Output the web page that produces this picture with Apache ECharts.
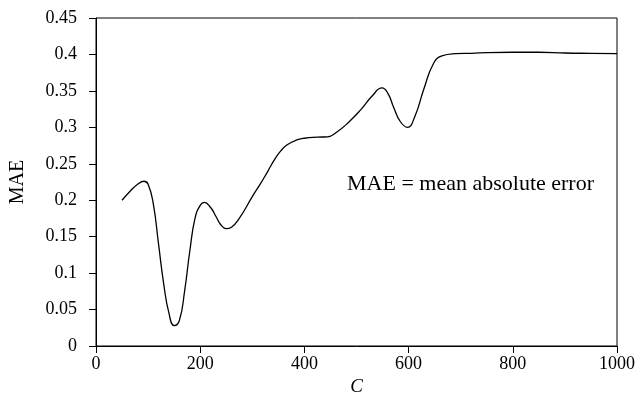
<!DOCTYPE html>
<html>
<head>
<meta charset="utf-8">
<script src="https://cdn.jsdelivr.net/npm/echarts@6/dist/echarts.min.js"></script>
<style>
    html, body { margin: 0; padding: 0; background: #fff; }
    #chart { width: 638px; height: 418px; }
</style>
</head>
<body>
<div id="chart"></div>
<script>
// C 取值
let cValues = [50, 65, 80, 92, 100, 110, 120, 130, 140, 150, 160, 170, 180, 190, 200, 208, 220, 230, 240, 250,
    260, 275, 300, 316, 330, 342, 355, 367, 383, 400, 425, 444, 463, 485, 508, 530, 549, 560, 571, 584,
    598, 612, 629, 648, 664, 690, 720, 800, 850, 900, 950, 1000];
// MAE
let maeValues = [0.200, 0.212, 0.222, 0.226, 0.222, 0.195, 0.140, 0.085, 0.045, 0.028, 0.035, 0.075, 0.130, 0.175, 0.193, 0.197, 0.190, 0.178, 0.166, 0.161,
    0.163, 0.175, 0.205, 0.223, 0.240, 0.255, 0.268, 0.276, 0.282, 0.285, 0.2865, 0.287, 0.294, 0.307, 0.324, 0.343, 0.354, 0.347, 0.328, 0.308,
    0.300, 0.315, 0.352, 0.388, 0.398, 0.401, 0.4016, 0.403, 0.403, 0.402, 0.4015, 0.401];

let xTicks = [0, 200, 400, 600, 800, 1000];
let yTicks = [0, 0.05, 0.1, 0.15, 0.2, 0.25, 0.3, 0.35, 0.4, 0.45];

let fontFamily = '"Liberation Serif", "DejaVu Serif", serif';

let seriesData = [];
for (let i = 0; i < cValues.length; i++) {
    seriesData.push([cValues[i], maeValues[i]]);
}

let myChart = echarts.init(document.getElementById('chart'));
let option = {
    animation: false,
    textStyle: { fontFamily: fontFamily },
    grid: {
        left: 95,
        right: 21,
        top: 18,
        bottom: 72,
        show: true,
        borderColor: '#000',
        borderWidth: 1
    },
    xAxis: {
        type: 'value',
        min: xTicks[0],
        max: xTicks[xTicks.length - 1],
        interval: 200,
        name: 'C',
        nameLocation: 'middle',
        nameGap: 24,
        nameTextStyle: { fontSize: 19, fontStyle: 'italic', color: '#000', fontFamily: fontFamily },
        axisLine: { lineStyle: { color: '#000', width: 1 } },
        axisTick: { show: true, length: 7, lineStyle: { color: '#000' } },
        axisLabel: {
            fontSize: 18,
            color: '#000',
            margin: 9,
            fontFamily: fontFamily,
            formatter: function (v) {
                return String(v);
            }
        },
        splitLine: { show: false }
    },
    yAxis: {
        type: 'value',
        min: yTicks[0],
        max: yTicks[yTicks.length - 1],
        interval: 0.05,
        name: 'MAE',
        nameLocation: 'middle',
        nameGap: 68,
        nameTextStyle: { fontSize: 20, color: '#000', fontFamily: fontFamily },
        axisLine: { show: true, lineStyle: { color: '#000', width: 1 } },
        axisTick: { show: true, length: 7, lineStyle: { color: '#000' } },
        axisLabel: {
            fontSize: 18,
            color: '#000',
            margin: 19,
            fontFamily: fontFamily,
            formatter: function (v) {
                return String(Math.round(v * 100) / 100);
            }
        },
        splitLine: { show: false }
    },
    graphic: [{
        type: 'text',
        left: 347,
        top: 173,
        style: {
            text: 'MAE = mean absolute error',
            font: '22px ' + fontFamily,
            fill: '#000'
        }
    }],
    series: [{
        type: 'line',
        data: seriesData,
        smooth: 0.5,
        showSymbol: false,
        lineStyle: { color: '#000', width: 1.3 }
    }]
};
myChart.setOption(option);
</script>
</body>
</html>
